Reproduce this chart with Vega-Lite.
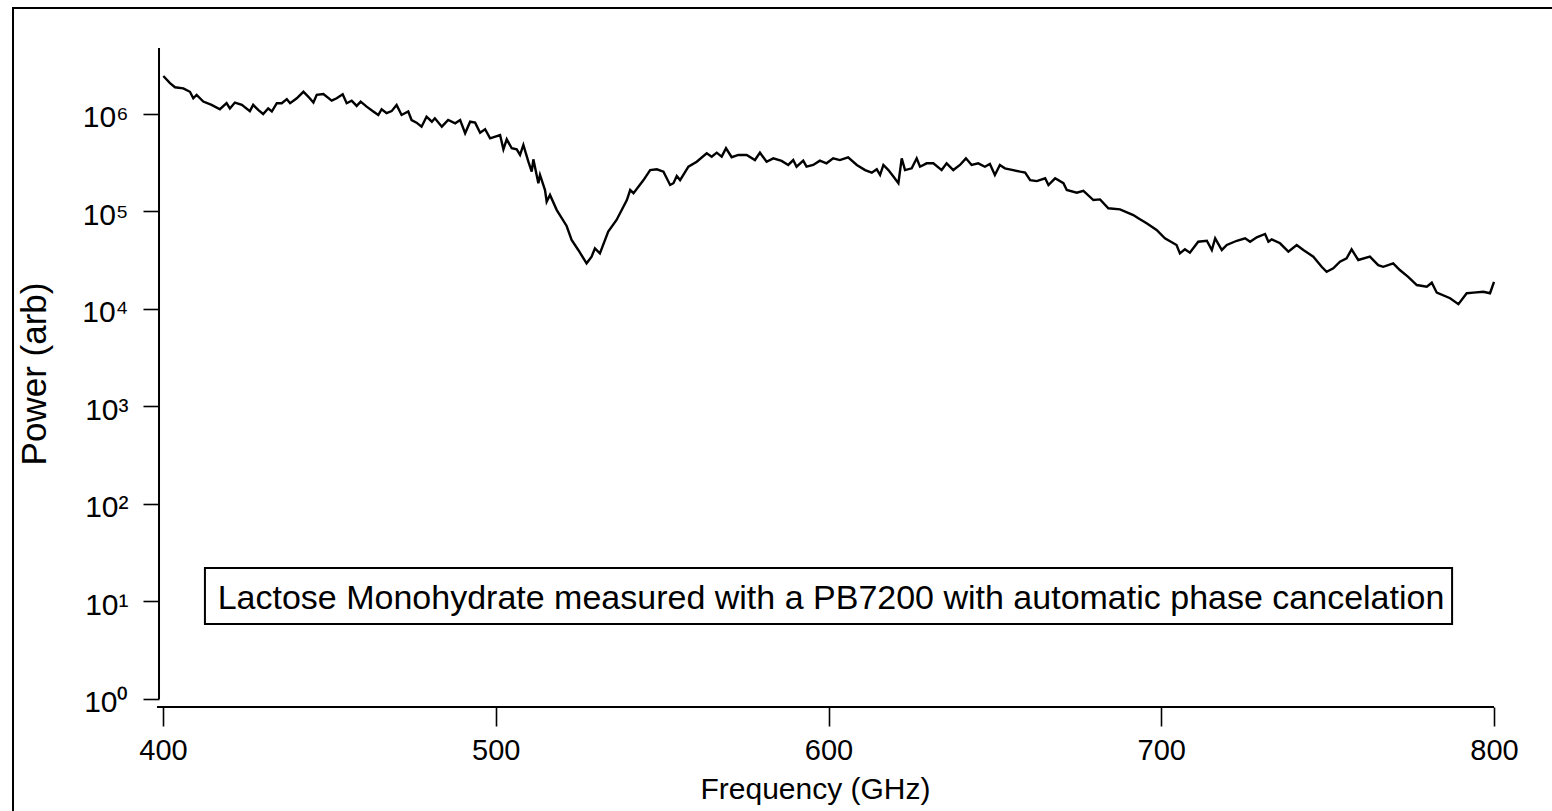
{
  "$schema": "https://vega.github.io/schema/vega-lite/v6.json",
  "width": 1547,
  "height": 812,
  "autosize": {"type": "none"},
  "padding": {"left": 13, "top": 8, "right": 0, "bottom": 0},
  "background": "white",
  "config": {
    "view": {"stroke": "black", "strokeWidth": 2},
    "font": "Liberation Sans"
  },
  "data": {"values": [
    {"f": 400.1, "p": 2450000}, {"f": 402.1, "p": 2070000}, {"f": 403.6, "p": 1880000}, {"f": 406.1, "p": 1830000},
    {"f": 408.1, "p": 1690000}, {"f": 409.1, "p": 1450000}, {"f": 410.1, "p": 1570000}, {"f": 412.1, "p": 1340000},
    {"f": 414.6, "p": 1240000}, {"f": 417.1, "p": 1120000}, {"f": 419.1, "p": 1290000}, {"f": 420.1, "p": 1140000},
    {"f": 421.6, "p": 1310000}, {"f": 423.7, "p": 1240000}, {"f": 426.1, "p": 1070000}, {"f": 427.1, "p": 1240000},
    {"f": 428.6, "p": 1100000}, {"f": 430.1, "p": 1000000}, {"f": 431.6, "p": 1140000}, {"f": 432.7, "p": 1060000},
    {"f": 434.2, "p": 1290000}, {"f": 435.7, "p": 1290000}, {"f": 437.2, "p": 1420000}, {"f": 438.2, "p": 1290000},
    {"f": 440.2, "p": 1450000}, {"f": 442.2, "p": 1690000}, {"f": 443.7, "p": 1500000}, {"f": 445.2, "p": 1310000},
    {"f": 446.2, "p": 1570000}, {"f": 448.2, "p": 1600000}, {"f": 450.7, "p": 1370000}, {"f": 452.2, "p": 1450000},
    {"f": 454.0, "p": 1590000}, {"f": 455.2, "p": 1290000}, {"f": 456.7, "p": 1370000}, {"f": 458.2, "p": 1210000},
    {"f": 459.4, "p": 1340000}, {"f": 461.2, "p": 1190000}, {"f": 463.2, "p": 1060000}, {"f": 464.7, "p": 977000},
    {"f": 465.7, "p": 1120000}, {"f": 467.2, "p": 1020000}, {"f": 468.7, "p": 1070000}, {"f": 470.2, "p": 1240000},
    {"f": 471.7, "p": 977000}, {"f": 473.7, "p": 1060000}, {"f": 474.7, "p": 867000}, {"f": 476.2, "p": 815000},
    {"f": 477.7, "p": 741000}, {"f": 479.2, "p": 938000}, {"f": 480.8, "p": 833000}, {"f": 481.7, "p": 903000},
    {"f": 483.8, "p": 741000}, {"f": 485.7, "p": 867000}, {"f": 487.8, "p": 802000}, {"f": 489.3, "p": 867000},
    {"f": 490.8, "p": 634000}, {"f": 492.3, "p": 833000}, {"f": 493.8, "p": 815000}, {"f": 495.3, "p": 643000},
    {"f": 496.8, "p": 697000}, {"f": 498.3, "p": 563000}, {"f": 501.3, "p": 608000}, {"f": 502.3, "p": 434000},
    {"f": 503.3, "p": 550000}, {"f": 504.8, "p": 445000}, {"f": 506.3, "p": 434000}, {"f": 507.3, "p": 380000},
    {"f": 508.3, "p": 481000}, {"f": 509.8, "p": 324000}, {"f": 510.8, "p": 256000}, {"f": 511.3, "p": 343000},
    {"f": 512.8, "p": 195000}, {"f": 513.3, "p": 237000}, {"f": 514.8, "p": 166000}, {"f": 515.3, "p": 126000},
    {"f": 516.3, "p": 148000}, {"f": 518.3, "p": 104000}, {"f": 521.3, "p": 71000}, {"f": 522.8, "p": 51000},
    {"f": 524.8, "p": 40300}, {"f": 527.3, "p": 29400}, {"f": 528.8, "p": 34400}, {"f": 529.8, "p": 41900},
    {"f": 531.3, "p": 37200}, {"f": 533.8, "p": 62100}, {"f": 536.3, "p": 81800}, {"f": 539.4, "p": 131000},
    {"f": 540.4, "p": 166000}, {"f": 541.4, "p": 154000}, {"f": 544.4, "p": 210000}, {"f": 546.4, "p": 266000},
    {"f": 548.4, "p": 271000}, {"f": 550.4, "p": 256000}, {"f": 552.4, "p": 187000}, {"f": 553.4, "p": 195000},
    {"f": 554.4, "p": 231000}, {"f": 555.4, "p": 210000}, {"f": 557.9, "p": 288000}, {"f": 560.4, "p": 324000},
    {"f": 563.4, "p": 395000}, {"f": 564.9, "p": 365000}, {"f": 566.4, "p": 401000}, {"f": 567.9, "p": 365000},
    {"f": 569.2, "p": 445000}, {"f": 570.9, "p": 360000}, {"f": 572.9, "p": 380000}, {"f": 575.4, "p": 380000},
    {"f": 577.9, "p": 337000}, {"f": 579.4, "p": 401000}, {"f": 581.4, "p": 324000}, {"f": 583.4, "p": 351000},
    {"f": 585.9, "p": 330000}, {"f": 587.9, "p": 300000}, {"f": 589.4, "p": 337000}, {"f": 590.4, "p": 288000},
    {"f": 592.4, "p": 332000}, {"f": 593.4, "p": 288000}, {"f": 595.4, "p": 300000}, {"f": 597.4, "p": 332000},
    {"f": 599.4, "p": 312000}, {"f": 601.4, "p": 351000}, {"f": 603.4, "p": 337000}, {"f": 605.9, "p": 360000},
    {"f": 608.5, "p": 300000}, {"f": 611.0, "p": 266000}, {"f": 613.0, "p": 250000}, {"f": 614.5, "p": 271000},
    {"f": 615.5, "p": 237000}, {"f": 616.5, "p": 300000}, {"f": 618.0, "p": 266000}, {"f": 619.5, "p": 228000},
    {"f": 621.0, "p": 195000}, {"f": 622.0, "p": 351000}, {"f": 623.0, "p": 266000}, {"f": 625.0, "p": 277000},
    {"f": 626.5, "p": 351000}, {"f": 627.5, "p": 288000}, {"f": 629.5, "p": 312000}, {"f": 631.5, "p": 312000},
    {"f": 634.0, "p": 266000}, {"f": 635.5, "p": 312000}, {"f": 637.5, "p": 266000}, {"f": 639.5, "p": 300000},
    {"f": 641.3, "p": 351000}, {"f": 643.0, "p": 300000}, {"f": 645.0, "p": 312000}, {"f": 647.0, "p": 288000},
    {"f": 648.5, "p": 307000}, {"f": 650.0, "p": 237000}, {"f": 651.5, "p": 300000}, {"f": 653.0, "p": 277000},
    {"f": 655.5, "p": 266000}, {"f": 657.6, "p": 256000}, {"f": 659.1, "p": 250000}, {"f": 660.6, "p": 210000},
    {"f": 662.6, "p": 205000}, {"f": 665.1, "p": 219000}, {"f": 666.1, "p": 187000}, {"f": 668.1, "p": 219000},
    {"f": 670.6, "p": 195000}, {"f": 671.6, "p": 166000}, {"f": 674.6, "p": 156000}, {"f": 676.6, "p": 163000},
    {"f": 679.6, "p": 131000}, {"f": 681.6, "p": 133000}, {"f": 684.1, "p": 108000}, {"f": 687.6, "p": 105000},
    {"f": 691.6, "p": 92000}, {"f": 693.1, "p": 85100}, {"f": 695.6, "p": 75700}, {"f": 698.6, "p": 64600},
    {"f": 701.1, "p": 53100}, {"f": 704.6, "p": 45300}, {"f": 705.6, "p": 37200}, {"f": 707.1, "p": 40900},
    {"f": 708.6, "p": 37800}, {"f": 711.1, "p": 49000}, {"f": 713.7, "p": 50100}, {"f": 715.2, "p": 40300},
    {"f": 716.2, "p": 53100}, {"f": 718.2, "p": 40300}, {"f": 719.7, "p": 45300}, {"f": 722.7, "p": 50100},
    {"f": 725.2, "p": 53100}, {"f": 726.7, "p": 49000}, {"f": 728.7, "p": 54300}, {"f": 731.2, "p": 58800},
    {"f": 732.2, "p": 49000}, {"f": 733.2, "p": 51800}, {"f": 735.7, "p": 47200}, {"f": 738.2, "p": 38700},
    {"f": 740.7, "p": 45300}, {"f": 742.7, "p": 40300}, {"f": 745.7, "p": 34400}, {"f": 748.2, "p": 27100},
    {"f": 749.7, "p": 24100}, {"f": 751.7, "p": 26100}, {"f": 753.7, "p": 30500}, {"f": 755.7, "p": 33100},
    {"f": 757.2, "p": 40900}, {"f": 759.2, "p": 31800}, {"f": 762.7, "p": 34400}, {"f": 765.2, "p": 28200},
    {"f": 766.7, "p": 27100}, {"f": 769.7, "p": 29400}, {"f": 771.7, "p": 25100}, {"f": 774.2, "p": 21400},
    {"f": 776.8, "p": 17600}, {"f": 779.8, "p": 16900}, {"f": 781.3, "p": 18600}, {"f": 782.8, "p": 14700},
    {"f": 786.8, "p": 12900}, {"f": 789.3, "p": 11200}, {"f": 791.8, "p": 14500}, {"f": 793.8, "p": 14700},
    {"f": 796.8, "p": 15000}, {"f": 798.8, "p": 14500}, {"f": 800.0, "p": 19000}
  ]},
  "layer": [
    {
      "mark": {"type": "line", "color": "black", "strokeWidth": 2.4, "interpolate": "linear"},
      "encoding": {
        "x": {
          "field": "f", "type": "quantitative",
          "scale": {"domain": [354.92, 819.83], "nice": false, "zero": false},
          "axis": {
            "title": "Frequency (GHz)",
            "values": [400, 500, 600, 700, 800],
            "offset": -113,
            "domain": false, "grid": false,
            "tickSize": 19, "tickWidth": 1.6, "tickColor": "black",
            "labelFont": "Liberation Sans", "labelFontSize": 29, "labelColor": "black",
            "labelPadding": 10, "labelFlush": false,
            "titleFont": "Liberation Sans", "titleFontSize": 30, "titleFontWeight": "normal", "titleColor": "black",
            "titleX": 802, "titleY": 91, "titleBaseline": "alphabetic", "titleAlign": "center"
          }
        },
        "y": {
          "field": "p", "type": "quantitative",
          "scale": {"type": "log", "domain": [0.0574, 12220000], "nice": false},
          "axis": {
            "title": "Power (arb)",
            "values": [1, 10, 100, 1000, 10000, 100000, 1000000],
            "labelExpr": "'10' + ['⁰','¹','²','³','⁴','⁵','⁶'][round(log(datum.value)/LN10)]",
            "offset": -146,
            "domain": false, "grid": false,
            "tickSize": 16, "tickWidth": 1.6, "tickColor": "black",
            "labelFont": "Liberation Sans", "labelFontSize": 30, "labelColor": "black",
            "labelPadding": 15, "labelFlush": false, "labelOffset": 4,
            "titleFont": "Liberation Sans", "titleFontSize": 35, "titleFontWeight": "normal", "titleColor": "black",
            "titleAngle": -90, "titleX": -114, "titleY": 365.5, "titleBaseline": "alphabetic", "titleAlign": "center"
          }
        }
      }
    },
    {
      "data": {"values": [{"k": "yaxis"}]},
      "mark": {"type": "rule", "color": "black", "strokeWidth": 2},
      "encoding": {
        "x": {"datum": 398.8, "type": "quantitative"},
        "y": {"datum": 1, "type": "quantitative"},
        "y2": {"datum": 4750000}
      }
    },
    {
      "data": {"values": [{"k": "xaxis"}]},
      "mark": {"type": "rule", "color": "black", "strokeWidth": 2},
      "encoding": {
        "x": {"datum": 398.2, "type": "quantitative"},
        "x2": {"datum": 800},
        "y": {"datum": 0.828, "type": "quantitative"}
      }
    },
    {
      "data": {"values": [{"label": "Lactose Monohydrate measured with a PB7200 with automatic phase cancelation"}]},
      "mark": {"type": "rect", "fill": "white", "stroke": "black", "strokeWidth": 2},
      "encoding": {
        "x": {"datum": 412.6, "type": "quantitative"},
        "x2": {"datum": 787.4},
        "y": {"datum": 22.06, "type": "quantitative"},
        "y2": {"datum": 5.88}
      }
    },
    {
      "data": {"values": [{"label": "Lactose Monohydrate measured with a PB7200 with automatic phase cancelation"}]},
      "mark": {"type": "text", "font": "Liberation Sans", "fontSize": 34, "color": "black", "align": "center", "baseline": "alphabetic"},
      "encoding": {
        "x": {"datum": 600.75, "type": "quantitative"},
        "y": {"datum": 8.38, "type": "quantitative"},
        "text": {"field": "label", "type": "nominal"}
      }
    }
  ]
}
